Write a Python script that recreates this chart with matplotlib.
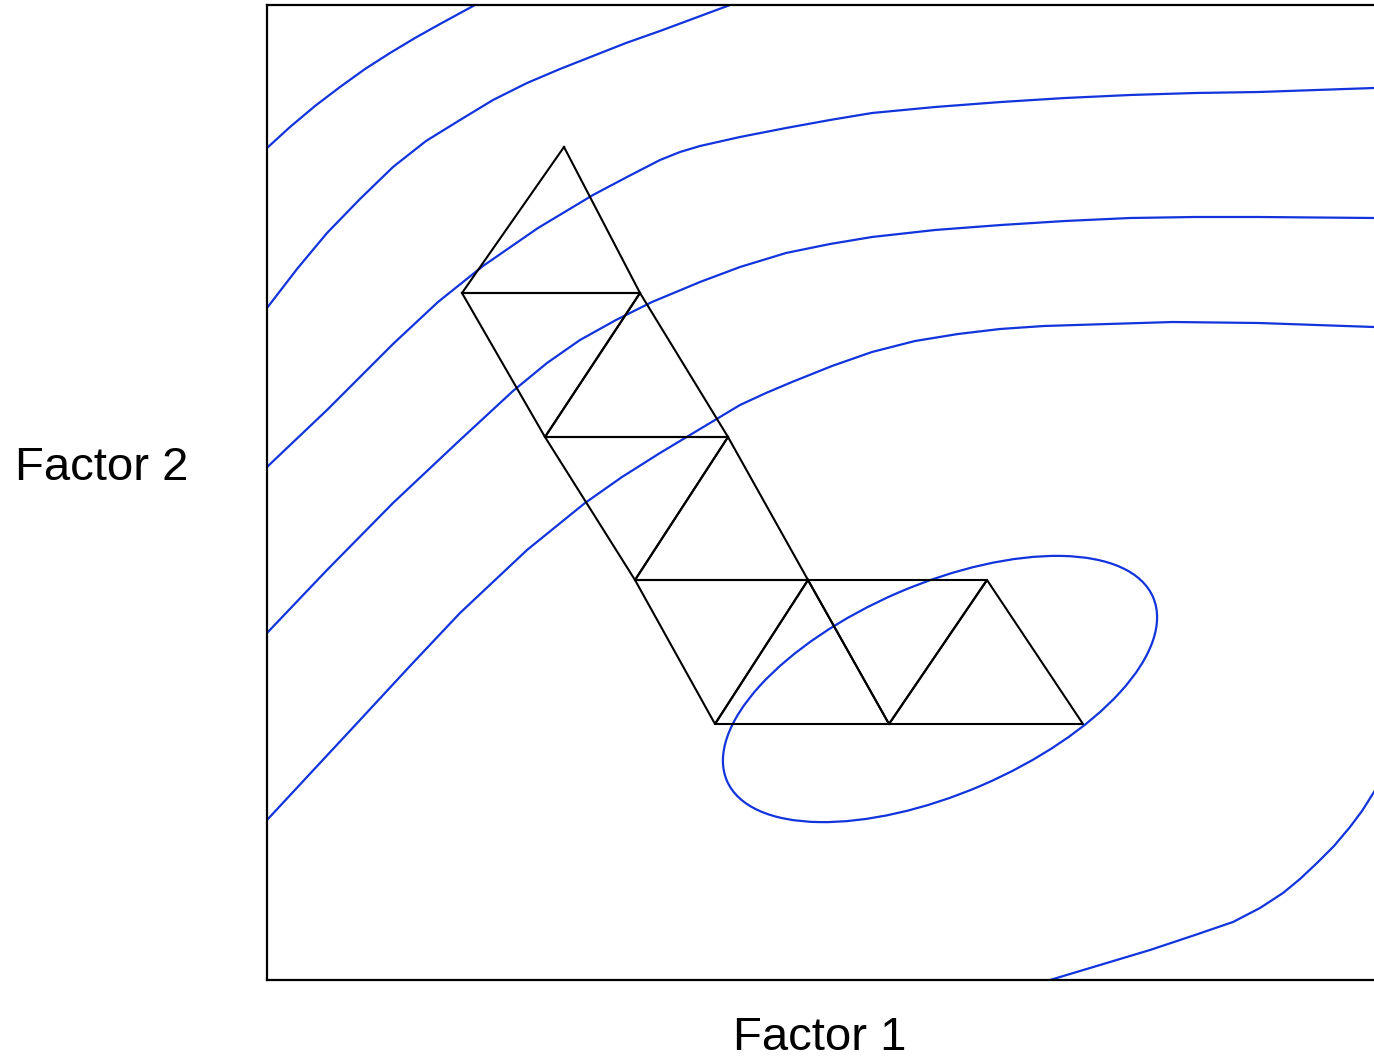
import matplotlib
matplotlib.use("Agg")
import matplotlib.pyplot as plt
from matplotlib.patches import Ellipse

# response contours (Factor 1, Factor 2 in plot units)
contour_a = [(0, 832), (23, 853), (48, 874), (73, 893), (98, 911), (123, 927),
             (148, 942), (173, 956), (208, 975), (223, 983)]
contour_b = [(0, 672), (30, 711), (60, 747), (93, 781), (126, 813), (159, 839),
             (193, 860), (226, 880), (260, 897), (293, 911), (326, 924), (359, 937),
             (393, 949), (428, 962), (463, 975), (478, 981)]
contour_c = [(0, 513), (60, 570), (93, 603), (126, 636), (171, 678), (216, 714),
             (271, 752), (326, 785), (360, 803), (393, 820), (413, 828), (433, 834),
             (473, 843), (519, 852), (563, 860), (605, 867), (668, 873), (734, 878),
             (798, 882), (863, 885), (928, 887), (992, 888), (1107, 892)]
contour_d = [(0, 347), (60, 410), (126, 477), (193, 540), (246, 589), (280, 617),
             (313, 640), (349, 660), (385, 678), (433, 698), (473, 713), (519, 727),
             (563, 736), (605, 743), (668, 750), (734, 755), (798, 759), (863, 762),
             (928, 763), (992, 763), (1107, 762)]
contour_e = [(0, 160), (93, 260), (143, 314), (193, 367), (260, 430), (318, 477),
             (355, 503), (393, 527), (433, 551), (473, 575), (499, 587), (525, 598),
             (565, 614), (605, 628), (648, 639), (691, 646), (733, 651), (777, 654),
             (841, 656), (906, 658), (992, 657), (1107, 653)]
contour_f = [(773, -3), (783, 0), (833, 15), (883, 30), (928, 45), (966, 58),
             (993, 72), (1016, 87), (1033, 101), (1050, 117), (1067, 134),
             (1083, 153), (1095, 169), (1107, 188), (1115, 200)]
contours = [contour_a, contour_b, contour_c, contour_d, contour_e, contour_f]

# innermost contour around the optimum: centre, width, height, angle
opt_center = (673, 291)
opt_width = 464
opt_height = 210
opt_angle = 23.3

# simplex steps (vertices of each triangle)
simplices = [
    [(297, 833), (195, 687), (373, 687)],
    [(195, 687), (373, 687), (278, 543)],
    [(373, 687), (278, 543), (461, 543)],
    [(278, 543), (461, 543), (368, 400)],
    [(461, 543), (368, 400), (541, 400)],
    [(368, 400), (541, 400), (448, 256)],
    [(541, 400), (448, 256), (622, 256)],
    [(541, 400), (622, 256), (720, 400)],
    [(622, 256), (720, 400), (816, 256)],
]

blue = "#1234dc"

fig = plt.figure(figsize=(13.74, 10.61), dpi=100)
ax = fig.add_axes([267 / 1374, 81 / 1061, 1107 / 1374, 975 / 1061])

for c in contours:
    xs = [p[0] for p in c]
    ys = [p[1] for p in c]
    ax.plot(xs, ys, color=blue, lw=1.6, solid_joinstyle="round")

ax.add_patch(Ellipse(opt_center, opt_width, opt_height, angle=opt_angle,
                     fill=False, edgecolor=blue, lw=1.6))

for tri in simplices:
    xs = [p[0] for p in tri] + [tri[0][0]]
    ys = [p[1] for p in tri] + [tri[0][1]]
    ax.plot(xs, ys, color="black", lw=1.5)

ax.set_xlim(0, 1107)
ax.set_ylim(0, 975)
ax.set_xticks([])
ax.set_yticks([])
ax.spines["right"].set_visible(False)
for s in ["left", "bottom", "top"]:
    ax.spines[s].set_linewidth(1.6)

fig.text(15 / 1374, 1 - 480 / 1061, "Factor 2", fontsize=34,
         family="Liberation Sans", ha="left", va="baseline")
fig.text(820 / 1374, 1 - 1050 / 1061, "Factor 1", fontsize=34,
         family="Liberation Sans", ha="center", va="baseline")

fig.savefig("out.png", dpi=100)
